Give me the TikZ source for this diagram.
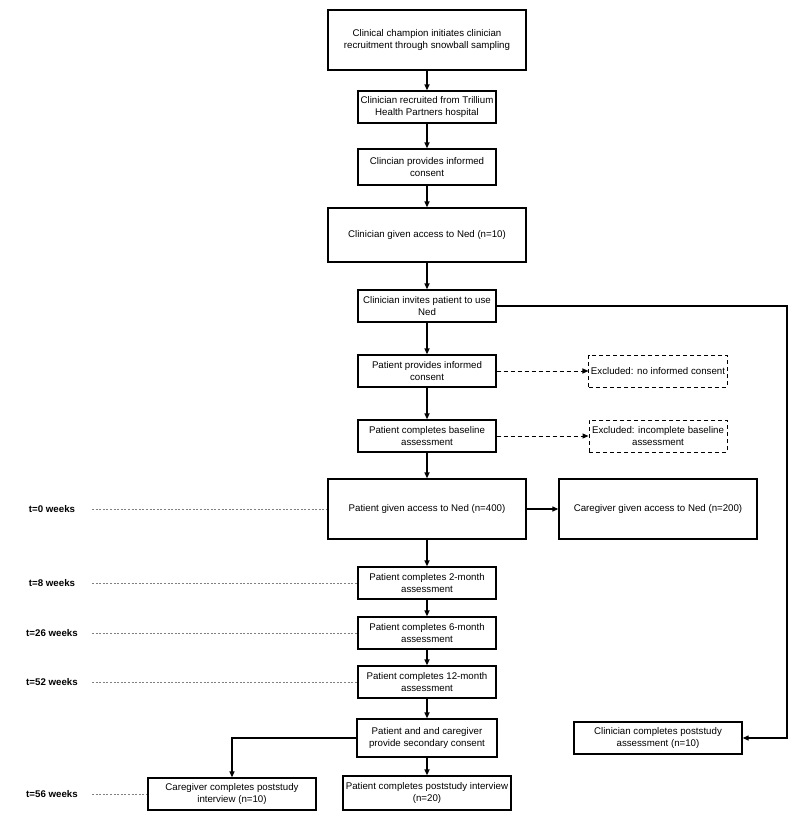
\documentclass[tikz,border=0pt]{standalone}
\usepackage{fontspec}
\setmainfont{Liberation Sans}
\usepackage{tikz}
\usetikzlibrary{positioning,arrows.meta}
\tikzset{%
  box/.style={draw, rectangle, line width=1.3pt, align=center, inner sep=2pt,
    font=\fontsize{9.7}{12}\selectfont},% every step of the flow
  narrowbox/.style={box, minimum width=138pt, minimum height=32pt},
  widebox/.style={box, minimum width=198pt, minimum height=60pt},
  postbox/.style={box, minimum width=168pt, minimum height=32pt},
  excluded/.style={narrowbox, line width=1pt, dash pattern=on 4pt off 3pt},
  flow/.style={line width=2pt, -{Triangle[length=6pt,width=5pt]}},% main column
  link/.style={line width=1.2pt, -{Triangle[length=6pt,width=5pt]}},% side branches
  skip/.style={line width=1pt, dash pattern=on 4pt off 3pt, -{Triangle[length=6pt,width=5pt]}},
  timeline/.style={gray, line width=0.7pt, dash pattern=on 2pt off 1.6pt},
  week/.style={font=\fontsize{9.7}{12}\selectfont\bfseries}
}

\begin{document}
\begin{tikzpicture}[x=1pt, y=-1pt]
\useasboundingbox (0,0) rectangle (800,823);

\node[widebox, minimum height=60pt] (champ)   at (427, 40)  {Clinical champion initiates clinician\\recruitment through snowball sampling};
\node[narrowbox]                   (recruit)  at (427, 107) {Clinician recruited from Trillium\\Health Partners hospital};
\node[narrowbox, minimum height=36pt] (cconsent) at (427, 167) {Clincian provides informed\\consent};
\node[widebox, minimum height=54pt] (caccess) at (427, 235) {Clinician given access to Ned (n=10)};
\node[narrowbox]                   (invite)   at (427, 306) {Clinician invites patient to use\\Ned};
\node[narrowbox]                   (pconsent) at (427, 371) {Patient provides informed\\consent};
\node[narrowbox]                   (baseline) at (427, 436) {Patient completes baseline\\assessment};
\node[widebox]                     (paccess)  at (427, 509) {Patient given access to Ned (n=400)};
\node[widebox]                     (cgaccess) at (658, 509) {Caregiver given access to Ned (n=200)};
\node[excluded]                    (excl1)    at (658, 371) {Excluded: no informed consent};
\node[excluded]                    (excl2)    at (658, 436) {Excluded: incomplete baseline\\assessment};
\node[narrowbox]                   (month2)   at (427, 583) {Patient completes 2-month\\assessment};
\node[narrowbox]                   (month6)   at (427, 633) {Patient completes 6-month\\assessment};
\node[narrowbox]                   (month12)  at (427, 682) {Patient completes 12-month\\assessment};
\node[narrowbox, minimum width=140pt, minimum height=38pt] (second) at (427, 738) {Patient and and caregiver\\provide secondary consent};
\node[postbox]                     (cgpost)   at (232, 794) {Caregiver completes poststudy\\interview (n=10)};
\node[postbox, minimum height=34pt] (ppost)   at (427, 793) {Patient completes poststudy interview\\(n=20)};
\node[postbox]                     (clpost)   at (658, 738) {Clinician completes poststudy\\assessment (n=10)};

\node[week] (t0)  at (52, 509) {t=0 weeks};
\node[week] (t8)  at (52, 583) {t=8 weeks};
\node[week] (t26) at (52, 633) {t=26 weeks};
\node[week] (t52) at (52, 682) {t=52 weeks};
\node[week] (t56) at (52, 794) {t=56 weeks};

\coordinate (corner) at (787, 306);

\draw[flow] (champ) -- (recruit);
\draw[flow] (recruit) -- (cconsent);
\draw[flow] (cconsent) -- (caccess);
\draw[flow] (caccess) -- (invite);
\draw[flow] (invite) -- (pconsent);
\draw[flow] (pconsent) -- (baseline);
\draw[flow] (baseline) -- (paccess);
\draw[flow] (paccess) -- (month2);
\draw[flow] (month2) -- (month6);
\draw[flow] (month6) -- (month12);
\draw[flow] (month12) -- (second);
\draw[flow] (second) -- (ppost);

\draw[skip] (pconsent) -- (excl1);
\draw[skip] (baseline) -- (excl2);
\draw[link] (paccess) -- (cgaccess);
\draw[link] (invite.east) -- (corner) |- (clpost.east);
\draw[link] (second.west) -| (cgpost.north);

\draw[timeline] ([xshift=40pt]t0.center) -- (paccess.west);
\draw[timeline] ([xshift=40pt]t8.center) -- (month2.west);
\draw[timeline] ([xshift=40pt]t26.center) -- (month6.west);
\draw[timeline] ([xshift=40pt]t52.center) -- (month12.west);
\draw[timeline] ([xshift=40pt]t56.center) -- (cgpost.west);

\end{tikzpicture}
\end{document}
